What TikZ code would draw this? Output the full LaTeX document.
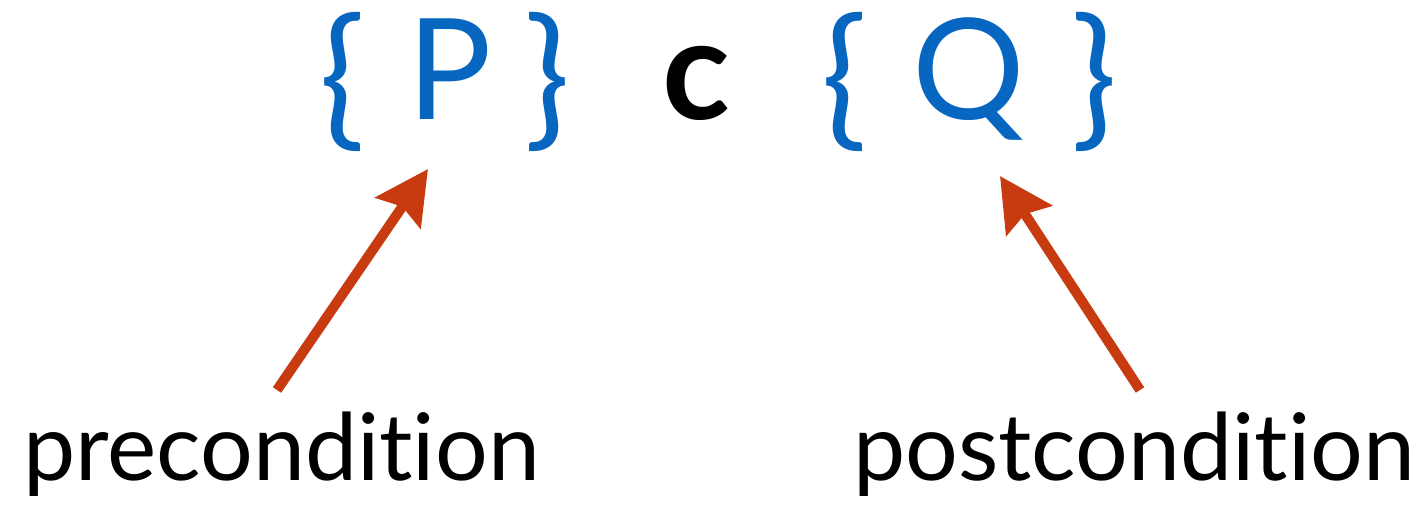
\documentclass[tikz,border=0pt]{standalone}
\usepackage{fontspec}
\setmainfont{Lato}[Ligatures=NoCommon]
\usetikzlibrary{arrows.meta,positioning}

\definecolor{condblue}{RGB}{6,102,192}
\definecolor{arrowred}{RGB}{200,58,16}

\begin{document}
\begin{tikzpicture}[->,>={Stealth[length=1.06cm,width=1.08cm,inset=0.15cm]},
      node distance=2cm,
      letter node/.style={inner sep=0pt,text height=1.5cm,text depth=0.5cm,
        font=\fontsize{80}{80}\selectfont,text=condblue},
      % braces sit a little lower and run taller than the letters
      brace node/.style={letter node,text height=1.9cm,
        font=\fontsize{87}{87}\selectfont},
      cmd node/.style={letter node,text=black,font=\fontsize{80}{80}\selectfont\bfseries},
      cond node/.style={inner sep=0pt,text height=1cm,text depth=0.3cm,
        font=\fontsize{53}{53}\selectfont},
      arrow line/.style={draw=arrowred,line width=0.2cm}]

    \useasboundingbox (0,0) rectangle (28.52,10.1);

    % the triple
    \node[brace node] (lbP) at (6.85,8.2) {\{};
    \node[letter node] (P) [right of=lbP,node distance=2.14cm] {P};
    \node[brace node] (rbP) [right of=P,node distance=1.96cm] {\}};
    \node[cmd node] (c) [right of=rbP,node distance=2.98cm] {c};
    \node[brace node] (lbQ) [right of=c,node distance=2.96cm] {\{};
    \node[letter node] (Q) [right of=lbQ,node distance=2.49cm] {Q};
    \node[brace node] (rbQ) [right of=Q,node distance=2.5cm] {\}};

    % labels underneath
    \node[cond node] (pre) at (5.63,0.85) {precondition};
    \node[cond node] (post) [right of=pre,node distance=17.05cm] {postcondition};

    \coordinate (preTail) at (5.54,2.3);
    \coordinate (preTip) at (8.56,6.72);
    \coordinate (postTail) at (22.8,2.3);
    \coordinate (postTip) at (20.0,6.58);

    \path
    (preTail) edge[arrow line] (preTip)
    (postTail) edge[arrow line] (postTip)
    ;
  \end{tikzpicture}
\end{document}
